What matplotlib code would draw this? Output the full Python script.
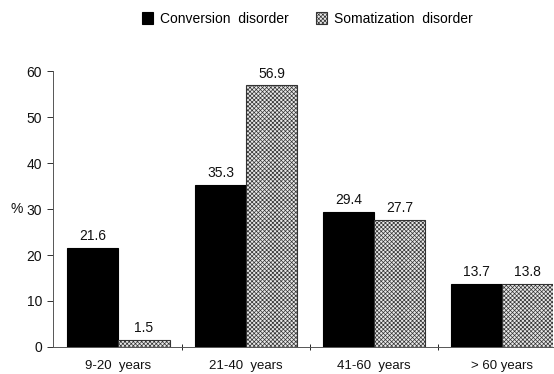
import matplotlib.pyplot as plt
import numpy as np

plt.rcParams['font.family'] = ['Liberation Sans Narrow', 'Liberation Sans', 'DejaVu Sans']
plt.rcParams['hatch.linewidth'] = 0.5

groups = ["9-20  years", "21-40  years", "41-60  years", "> 60 years"]
conversion = [21.6, 35.3, 29.4, 13.7]
somatization = [1.5, 56.9, 27.7, 13.8]
series_names = ["Conversion  disorder", "Somatization  disorder"]

W = 0.4


def main():
    fig = plt.figure(figsize=(5.54, 3.74), dpi=100)
    ax = fig.add_axes([53 / 554, 1 - 347 / 374, 500 / 554, 276 / 374])

    x = np.arange(len(groups))
    b1 = ax.bar(x - W / 2, conversion, W, color="black", edgecolor="black",
                linewidth=0.8, label=series_names[0])
    b2 = ax.bar(x + W / 2, somatization, W, color="#e8e8e8", edgecolor="#333333",
                hatch="xxxxxxxx", linewidth=0.8, label=series_names[1])

    for bars, vals in ((b1, conversion), (b2, somatization)):
        for r, v in zip(bars, vals):
            ax.text(r.get_x() + r.get_width() / 2, v + 1.0, f"{v}",
                    ha="center", va="bottom", fontsize=10, color="#111111")

    ax.set_xlim(-0.512, 3.4)
    ax.set_ylim(0, 60)
    ax.set_yticks(range(0, 61, 10))
    ax.set_xticks([0.5, 1.5, 2.5])
    ax.set_xticklabels([])
    for xi, g in zip(x, groups):
        ax.text(xi, -4.1, g, ha="center", va="center", fontsize=9.5, color="#111111")

    ax.tick_params(axis="y", direction="out", length=4, width=0.6,
                   labelsize=10, pad=4, colors="#111111")
    ax.tick_params(axis="x", direction="inout", length=5, width=0.6)
    ax.spines["top"].set_visible(False)
    ax.spines["right"].set_visible(False)
    for s in ("left", "bottom"):
        ax.spines[s].set_linewidth(0.7)
        ax.spines[s].set_color("#555555")

    ax.text(-0.8, 30, "%", ha="center", va="center", fontsize=10, color="#111111")

    fig.legend(handles=[b1, b2], loc="center", bbox_to_anchor=(0.555, 1 - 19 / 374),
               ncol=2, frameon=False, fontsize=10, handlelength=0.8,
               handleheight=0.9, handletextpad=0.5, columnspacing=2.0)

    fig.savefig("out.png", dpi=100)
    plt.close(fig)


if __name__ == "__main__":
    main()
